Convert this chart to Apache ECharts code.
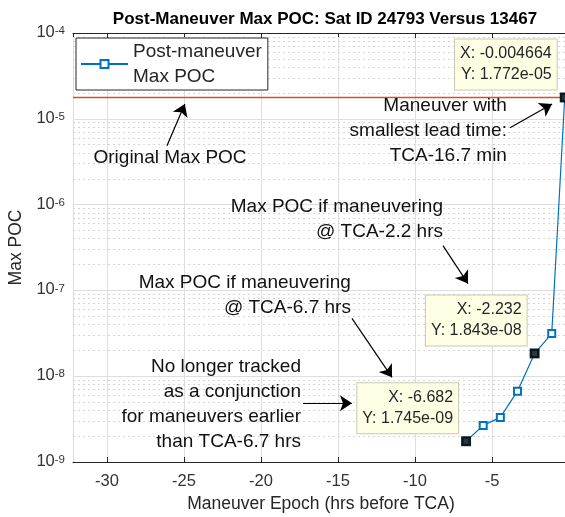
<!DOCTYPE html>
<html>
<head>
<meta charset="utf-8">
<script src="https://cdn.jsdelivr.net/npm/echarts@6/dist/echarts.min.js"></script>
<style>
html, body { margin: 0; padding: 0; background: #fff; }
#pocChart { width: 565px; height: 517px; }
</style>
</head>
<body>
<div id="pocChart"></div>
<script>
// maneuver epochs (hrs before TCA) and post-maneuver max POC
var epochHrs = [-6.682, -5.570, -4.457, -3.345, -2.232, -1.120, -0.278];
var maxPoc = [1.745e-9, 2.67e-9, 3.31e-9, 6.69e-9, 1.843e-8, 3.14e-8, 1.772e-5];
var originalPoc = 1.772e-5;
var xRange = [-32.2, 0];
var yRange = [1e-9, 1e-4];

// data tips (index into the series) and their text
var tipIndex = [0, 4, 6];
var tipText = ['X: -6.682\nY: 1.745e-09', 'X: -2.232\nY: 1.843e-08', 'X: -0.004664\nY: 1.772e-05'];

// annotation texts, anchored (right / center) in data coords
var noteText = [
  'Original Max POC',
  'Maneuver with\nsmallest lead time:\nTCA-16.7 min',
  'Max POC if maneuvering\n@ TCA-2.2 hrs',
  'Max POC if maneuvering\n@ TCA-6.7 hrs',
  'No longer tracked\nas a conjunction\nfor maneuvers earlier\nthan TCA-6.7 hrs'
];
var noteAt = [[-25.9, 3.52e-6], [-4.03, 7.24e-6], [-8.18, 6.7e-7], [-14.16, 8.75e-8], [-17.4, 4.67e-9]];
var noteAlign = ['center', 'right', 'right', 'right', 'right'];

// arrows: [tail, head]
var arrows = [
  [[-26.1, 4.85e-6], [-24.94, 1.49e-5]],
  [[-3.83, 7.85e-6], [-1.10, 1.49e-5]],
  [[-8.18, 3.33e-7], [-6.56, 1.2e-7]],
  [[-14.09, 4.72e-8], [-11.49, 9.7e-9]],
  [[-17.27, 4.85e-9], [-14.09, 4.85e-9]]
];

var FONT = '"Liberation Sans", Arial, Helvetica, sans-serif';
var INK = '#262626';

// dotted minor grid for the log axis (2..9 per decade)
var minorLines = [];
for (var d = -9; d < -4; d++) {
  for (var m = 2; m <= 9; m++) {
    var v = m * Math.pow(10, d);
    minorLines.push([
      { coord: [xRange[0], v], lineStyle: { color: '#d6d6d6', type: [2, 3], width: 1 } },
      { coord: [xRange[1], v] }
    ]);
  }
}

var chart = echarts.init(document.getElementById('pocChart'));

var option = {
  animation: false,
  backgroundColor: '#fff',
  textStyle: { fontFamily: FONT },
  title: {
    text: 'Post-Maneuver Max POC: Sat ID 24793 Versus 13467',
    left: 320,
    top: 6,
    textAlign: 'center',
    textStyle: { fontSize: 17, fontWeight: 'bold', color: '#000', fontFamily: FONT }
  },
  grid: { left: 73, top: 33, width: 496, height: 429, outerBoundsMode: 'none', containLabel: false },
  legend: {
    data: ['Post-maneuver Max POC'],
    left: 76,
    top: 38,
    orient: 'vertical',
    backgroundColor: '#fff',
    borderColor: INK,
    borderWidth: 1,
    borderRadius: 0,
    padding: [1, 6, 1, 4],
    itemWidth: 47,
    itemHeight: 10,
    formatter: function () { return 'Post-maneuver\nMax POC'; },
    textStyle: { fontSize: 19, lineHeight: 25, color: INK, fontFamily: FONT }
  },
  xAxis: [{
    type: 'value',
    min: xRange[0],
    max: xRange[1],
    name: 'Maneuver Epoch (hrs before TCA)',
    nameLocation: 'middle',
    nameGap: 32,
    nameTextStyle: { fontSize: 17.5, color: INK, fontFamily: FONT },
    axisLine: { lineStyle: { color: INK, width: 1 } },
    axisTick: { inside: true, length: 5, lineStyle: { color: INK } },
    axisLabel: { showMinLabel: false, showMaxLabel: true, hideOverlap: false, fontSize: 16.5, color: '#333', margin: 11, fontFamily: FONT },
    splitLine: { show: true, lineStyle: { color: '#dedede', width: 1 } }
  }, {
    type: 'value',
    position: 'top',
    min: xRange[0],
    max: xRange[1],
    axisLine: { show: true, onZero: false, lineStyle: { color: INK, width: 1 } },
    axisTick: { show: true, inside: true, length: 5, lineStyle: { color: INK } },
    axisLabel: { show: false },
    splitLine: { show: false }
  }],
  yAxis: {
    type: 'log',
    logBase: 10,
    min: yRange[0],
    max: yRange[1],
    name: 'Max POC',
    nameLocation: 'middle',
    nameGap: 44,
    nameTextStyle: { fontSize: 17.5, color: INK, fontFamily: FONT },
    axisLine: { show: true, lineStyle: { color: INK, width: 1 } },
    axisTick: { show: true, inside: true, length: 5, lineStyle: { color: INK } },
    splitLine: { show: true, lineStyle: { color: '#dedede', width: 1 } },
    axisLabel: {
      margin: 8,
      formatter: function (v) {
        var e = Math.round(Math.log10(v));
        return '{b|10}{s|' + e + '}';
      },
      rich: {
        b: { fontSize: 16.5, lineHeight: 16, verticalAlign: 'bottom', color: '#333', fontFamily: FONT },
        s: { fontSize: 11.5, lineHeight: 12, verticalAlign: 'top', padding: [0, 0, 7, 0], color: '#333', fontFamily: FONT }
      }
    }
  },
  series: [{
    name: 'Original Max POC',
    type: 'line',
    data: [[xRange[0], originalPoc], [xRange[1], originalPoc]],
    showSymbol: false,
    symbol: 'none',
    silent: true,
    z: 2,
    lineStyle: { color: '#D95319', width: 1.6 },
    itemStyle: { color: '#D95319' },
    markLine: {
      silent: true,
      symbol: 'none',
      label: { show: false },
      emphasis: { disabled: true },
      z: 1,
      data: minorLines
    }
  }, {
    name: 'arrows',
    type: 'line',
    data: [[xRange[0], originalPoc]],
    symbol: 'none',
    silent: true,
    z: 5,
    markLine: {
      silent: true,
      symbol: ['none', 'arrow'],
      symbolSize: 12,
      label: { show: false },
      lineStyle: { color: '#000', type: 'solid', width: 1.2 },
      emphasis: { disabled: true },
      data: arrows.map(function (a) { return [{ coord: a[0] }, { coord: a[1] }]; })
    }
  }, {
    name: 'Post-maneuver Max POC',
    type: 'line',
    data: epochHrs.map(function (x, i) { return [x, maxPoc[i]]; }),
    symbol: 'emptyRect',
    symbolSize: 7,
    lineStyle: { color: '#0072BD', width: 1.2 },
    itemStyle: { color: '#0072BD', borderWidth: 1.2 },
    z: 3
  }, {
    name: 'tips',
    type: 'scatter',
    data: tipIndex.map(function (i) { return [epochHrs[i], maxPoc[i]]; }),
    symbol: 'rect',
    symbolSize: 10,
    itemStyle: { color: '#000' },
    z: 4
  }]
};

chart.setOption(option);

// place annotation texts and data tip boxes through the axes
var graphics = [];
noteText.forEach(function (t, i) {
  var p = chart.convertToPixel({ xAxisIndex: 0, yAxisIndex: 0 }, noteAt[i]);
  graphics.push({
    type: 'text',
    x: p[0], y: p[1], z: 50,
    style: {
      text: t, fill: '#111', font: '19px ' + FONT, lineHeight: 25,
      align: noteAlign[i], verticalAlign: 'middle'
    }
  });
});
tipIndex.forEach(function (idx, i) {
  var p = chart.convertToPixel({ xAxisIndex: 0, yAxisIndex: 0 }, [epochHrs[idx], maxPoc[idx]]);
  graphics.push({
    type: 'text',
    x: p[0] - 8, y: p[1] - 8, z: 60,
    style: {
      text: tipText[i], fill: INK, font: '16px ' + FONT, lineHeight: 21,
      align: 'right', verticalAlign: 'bottom',
      backgroundColor: '#ffffe6', borderColor: '#c8c8b4', borderWidth: 1,
      padding: [4, 5, 4, 5]
    }
  });
});
chart.setOption({ graphic: graphics });
</script>
</body>
</html>
